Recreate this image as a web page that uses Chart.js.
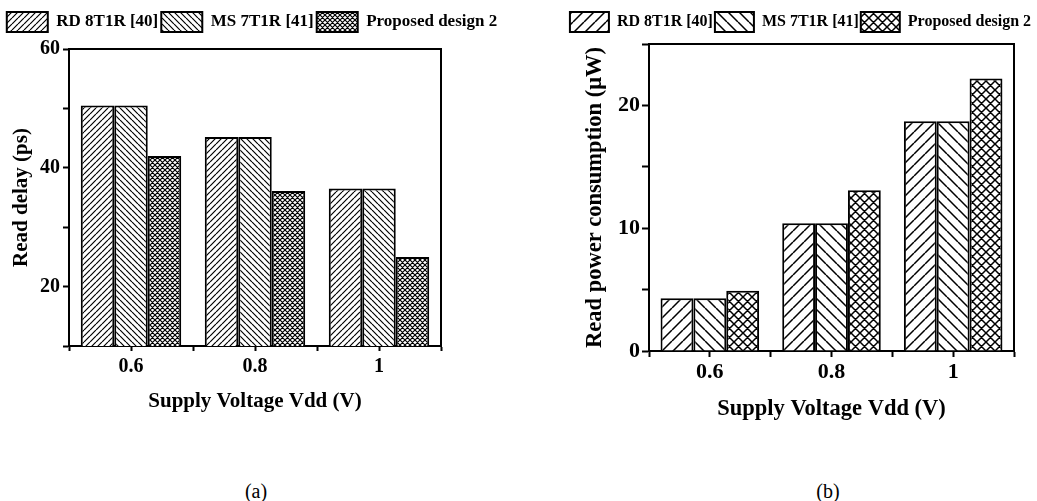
<!DOCTYPE html>
<html><head><meta charset="utf-8">
<script src="https://cdn.jsdelivr.net/npm/chart.js@4"></script>
<style>
html,body{margin:0;padding:0;background:#fff;width:1037px;height:501px;overflow:hidden;position:relative}
.box{position:absolute;top:0}
.cap{position:absolute;font-family:'Liberation Serif','Times New Roman',serif;font-size:20px;line-height:20px;transform:translateX(-50%);color:#000}
</style></head><body>
<div class="box" style="left:0"><canvas id="c1" width="520" height="440"></canvas></div>
<div class="box" style="left:518px"><canvas id="c2" width="519" height="440"></canvas></div>
<div class="cap" style="left:256px;top:481px">(a)</div>
<div class="cap" style="left:828px;top:481px">(b)</div>
<script>
const categories = ['0.6', '0.8', '1'];
const seriesNames = ['RD 8T1R [40]', 'MS 7T1R [41]', 'Proposed design 2'];
const delayRD = [50.5, 45.2, 36.5];
const delayMS = [50.5, 45.2, 36.5];
const delayProposed = [42.0, 36.1, 25.0];
const powerRD = [4.3, 10.4, 18.7];
const powerMS = [4.3, 10.4, 18.7];
const powerProposed = [4.9, 13.1, 22.2];
const delayTickLabels = [20, 40, 60];
const powerTickLabels = [0, 10, 20];

Chart.defaults.font.family = "'Liberation Serif','Times New Roman',serif";
Chart.defaults.font.weight = 'bold';
Chart.defaults.color = '#000';

function hatch(ctx, kind, s, lw) {
  const c = document.createElement('canvas');
  c.width = s; c.height = s;
  const g = c.getContext('2d');
  g.fillStyle = '#fff'; g.fillRect(0, 0, s, s);
  g.strokeStyle = '#000'; g.lineWidth = lw;
  g.beginPath();
  for (let k = -1; k <= 1; k++) {
    if (kind === 'fwd' || kind === 'cross') { g.moveTo(k * s, s); g.lineTo(k * s + s, 0); }
    if (kind === 'back' || kind === 'cross') { g.moveTo(k * s, 0); g.lineTo(k * s + s, s); }
  }
  g.stroke();
  return ctx.createPattern(c, 'repeat');
}

function build(id, cfg) {
  const canvas = document.getElementById(id);
  const ctx = canvas.getContext('2d');
  const W = canvas.width, H = canvas.height;
  const pats = [hatch(ctx, 'fwd', cfg.hs, cfg.hlw), hatch(ctx, 'back', cfg.hs, cfg.hlw), hatch(ctx, 'cross', cfg.cs, cfg.hlw)];
  const datasets = cfg.series.map((vals, j) => ({
    label: seriesNames[j],
    data: vals.map((v, i) => ({ x: i, y: v })),
    backgroundColor: pats[j],
    borderColor: '#000',
    borderWidth: 2,
    categoryPercentage: 1.62,
    barPercentage: 1
  }));
  return new Chart(ctx, {
    type: 'bar',
    data: { datasets },
    options: {
      responsive: false, animation: false, devicePixelRatio: 1,
      layout: { padding: { top: 12 - cfg.lp, left: cfg.padL, right: cfg.padR, bottom: 0 } },
      plugins: {
        legend: { position: 'top', labels: { boxWidth: cfg.bw, boxHeight: 20, padding: cfg.lp, font: { size: cfg.lf, weight: 'bold' }, color: '#000' } },
        tooltip: { enabled: false }
      },
      scales: {
        x: {
          type: 'linear', position: 'bottom', min: -0.5, max: 2.5, offset: false,
          grid: { offset: false, drawOnChartArea: false, tickLength: cfg.xtl, tickWidth: 2, color: '#000' },
          border: { color: '#000', width: 2 },
          ticks: { stepSize: 0.5, autoSkip: false, maxRotation: 0, padding: cfg.xpad, font: { size: cfg.tf, weight: 'bold' }, color: '#000',
            callback: v => Number.isInteger(v) ? categories[v] : '' },
          title: { display: true, text: 'Supply Voltage Vdd (V)', font: { size: cfg.titf, weight: 'bold' }, color: '#000', padding: { top: 0, bottom: cfg.xtpb } },
          afterFit: s => { s.height = H - cfg.area.bottom; }
        },
        y: {
          type: 'linear', position: 'left', min: cfg.ymin, max: cfg.ymax, beginAtZero: false,
          grid: { drawOnChartArea: false, tickLength: cfg.ytl, tickWidth: 2, color: '#000' },
          border: { color: '#000', width: 2 },
          ticks: { stepSize: cfg.ystep, padding: cfg.ypad, font: { size: cfg.tf, weight: 'bold' }, color: '#000',
            callback: v => cfg.yLabels.includes(v) ? String(v) : '' },
          title: { display: true, text: cfg.ytitle, font: { size: cfg.titf, weight: 'bold' }, color: '#000', padding: { top: cfg.ytpt - cfg.padL, bottom: 0 } },
          afterFit: s => { s.width = cfg.area.left - cfg.padL; }
        },
        xTop: {
          type: 'linear', position: 'top', display: true,
          grid: { drawOnChartArea: false, drawTicks: false },
          border: { color: '#000', width: 2 },
          ticks: { display: false },
          afterFit: s => { s.height = cfg.topGap; }
        },
        yRight: {
          type: 'linear', position: 'right', display: true,
          grid: { drawOnChartArea: false, drawTicks: false },
          border: { color: '#000', width: 2 },
          ticks: { display: false },
          afterFit: s => { s.width = W - cfg.padR - cfg.area.right; }
        }
      }
    }
  });
}

build('c1', {
  series: [delayRD, delayMS, delayProposed],
  area: { left: 69, right: 441, top: 49, bottom: 346 }, topGap: 7, padL: 0, padR: 16, lp: 3,
  ymin: 10, ymax: 60, ystep: 10, yLabels: delayTickLabels,
  ytitle: 'Read delay (ps)',
  bw: 41, lf: 17, tf: 20, titf: 21,
  xtl: 5, xpad: 4, xtpb: 25.4, ytl: 6, ypad: 3, ytpt: 9,
  hs: 6, cs: 5, hlw: 1.2
});
build('c2', {
  series: [powerRD, powerMS, powerProposed],
  area: { left: 131, right: 496, top: 44, bottom: 351 }, topGap: 2, padL: 46, padR: 0, lp: 2,
  ymin: 0, ymax: 25, ystep: 5, yLabels: powerTickLabels,
  ytitle: 'Read power consumption (μW)',
  bw: 39, lf: 16, tf: 22, titf: 22.5,
  xtl: 6, xpad: 2, xtpb: 17.5, ytl: 7, ypad: 2, ytpt: 63.5,
  hs: 11, cs: 9, hlw: 1.5
});
</script>
</body></html>
